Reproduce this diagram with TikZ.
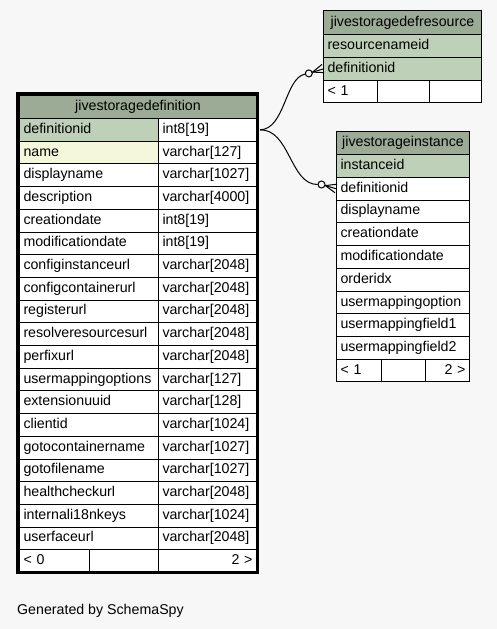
\documentclass[tikz,border=0pt]{standalone}
\usepackage{fontspec}
\setmainfont{Liberation Sans}
\definecolor{bgc}{HTML}{F7F7F7}
\definecolor{headc}{HTML}{9BAB96}
\definecolor{pkc}{HTML}{BED1B8}
\definecolor{ixc}{HTML}{F4F7DA}
\newcommand\tblfont{\fontsize{14.2}{16}\selectfont}
\tikzset{
  cellbox/.style={draw=black, line width=1pt, inner xsep=4pt, inner ysep=0pt,
    text height=10pt, text depth=3pt, font=\tblfont, anchor=north west},
  odot/.style={circle, draw=black, fill=bgc, line width=1pt, minimum size=7pt, inner sep=0pt},
  fkline/.style={draw=black, line width=1pt},
}
% name, x, y, width, height, fill, align, text
\newcommand\tcell[8]{%
  \pgfmathsetmacro\cellw{#4-8}%
  \node[cellbox, fill=#6, align=#7, text width=\cellw pt, minimum height=#5pt] (#1) at (#2,#3) {#8};}
% header cell: name, x, y, width, height, text
\newcommand\hcell[6]{%
  \node[cellbox, fill=headc, inner xsep=0pt, minimum width=#4pt, minimum height=#5pt] (#1) at (#2,#3) {#6};}
\begin{document}
\begin{tikzpicture}[x=1pt,y=-1pt]
\fill[bgc] (0,0) rectangle (497,629);
\useasboundingbox (0,0) rectangle (497,629);

% ---- main table: jivestoragedefinition
\hcell{mhead}{19}{95}{237}{23}{jivestoragedefinition}
\foreach \nm/\ty/\fc [count=\i] in {definitionid/int8[19]/pkc, name/varchar[127]/ixc,
  displayname/varchar[1027]/white, description/varchar[4000]/white,
  creationdate/int8[19]/white, modificationdate/int8[19]/white,
  configinstanceurl/varchar[2048]/white, configcontainerurl/varchar[2048]/white,
  registerurl/varchar[2048]/white, resolveresourcesurl/varchar[2048]/white,
  perfixurl/varchar[2048]/white, usermappingoptions/varchar[127]/white,
  extensionuuid/varchar[128]/white, clientid/varchar[1024]/white,
  gotocontainername/varchar[1027]/white, gotofilename/varchar[1027]/white,
  healthcheckurl/varchar[2048]/white, internali18nkeys/varchar[1024]/white,
  userfaceurl/varchar[2048]/white} {
  \pgfmathsetmacro\yy{118+22.7*(\i-1)}
  \tcell{mn\i}{19}{\yy}{139}{22.7}{\fc}{left}{\nm}
  \tcell{mt\i}{158}{\yy}{98}{22.7}{white}{left}{\ty}
}
\tcell{mf1}{19}{549.3}{70}{22.2}{white}{left}{< 0}
\tcell{mf2}{89}{549.3}{69}{22.2}{white}{left}{}
\tcell{mf3}{158}{549.3}{98}{22.2}{white}{right}{2 >}
\draw[line width=3.2pt] (17.5,93.5) rectangle (257.5,572.6);

% ---- jivestoragedefresource
\hcell{rhead}{323}{10}{158}{24}{jivestoragedefresource}
\tcell{rres}{323}{34}{158}{23}{pkc}{left}{resourcenameid}
\tcell{rdef}{323}{57}{158}{23}{pkc}{left}{definitionid}
\tcell{rf1}{323}{80}{54}{22}{white}{left}{< 1}
\tcell{rf2}{377}{80}{52}{22}{white}{left}{}
\tcell{rf3}{429}{80}{52}{22}{white}{left}{}

% ---- jivestorageinstance
\hcell{ihead}{336}{131}{133}{23}{jivestorageinstance}
\foreach \nm/\fc [count=\i] in {instanceid/pkc, definitionid/white, displayname/white,
  creationdate/white, modificationdate/white, orderidx/white,
  usermappingoption/white, usermappingfield1/white, usermappingfield2/white} {
  \pgfmathsetmacro\yy{154+22.78*(\i-1)}
  \tcell{ic\i}{336}{\yy}{133}{22.78}{\fc}{left}{\nm}
}
\tcell{if1}{336}{359}{45}{22}{white}{left}{< 1}
\tcell{if2}{381}{359}{44}{22}{white}{left}{}
\tcell{if3}{425}{359}{44}{22}{white}{right}{2 >}

% ---- connectors
\coordinate (e0) at ([xshift=3pt]mt1.east);
\node[odot] (o1) at (308.8,73.4) {};
\node[odot] (o2) at (321.5,184.5) {};
\draw[fkline] (e0) .. controls (285,129.3) and (285,78) .. (o1);
\draw[fkline] (e0) .. controls (290,129.3) and (290,184.5) .. (o2);
% crow's feet
\coordinate (v1) at (312.6,72.1);
\draw[fkline] (o1) -- (rdef.west);
\draw[fkline] (324,72.6) -- (v1) -- (322,64.4);
\coordinate (v2) at (325.4,185.6);
\draw[fkline] (o2) -- (ic2.west);
\draw[fkline] (335,192.8) -- (v2) -- (337,184.2);

\node[font=\tblfont, anchor=base west, inner sep=0pt] (gen) at (17,614) {Generated by SchemaSpy};
\end{tikzpicture}
\end{document}
